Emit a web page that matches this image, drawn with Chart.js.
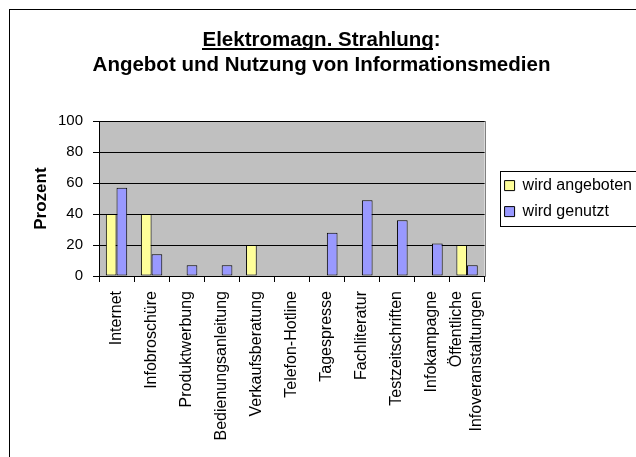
<!DOCTYPE html>
<html>
<head>
<meta charset="utf-8">
<script src="https://cdn.jsdelivr.net/npm/chart.js@4.4.1/dist/chart.umd.min.js"></script>
<style>
  html, body { margin: 0; padding: 0; background: #fff; overflow: hidden; }
  #wrap { width: 660px; height: 480px; }
</style>
</head>
<body>
<div id="wrap"><canvas id="chart" width="660" height="480"></canvas></div>
<script>
const categories = ['Internet', 'Infobroschüre', 'Produktwerbung', 'Bedienungsanleitung', 'Verkaufsberatung',
  'Telefon-Hotline', 'Tagespresse', 'Fachliteratur', 'Testzeitschriften', 'Infokampagne',
  ['Öffentliche', 'Infoveranstaltungen']];
const angeboten = [40, 40, 0, 0, 20, 0, 0, 0, 0, 0, 20];
const genutzt = [57, 14, 7, 7, 0, 0, 28, 49, 36, 21, 7];
const yTicks = [0, 20, 40, 60, 80, 100];
const titleLines = ['Elektromagn. Strahlung:', 'Angebot und Nutzung von Informationsmedien'];

const FONT = "'Liberation Sans', Arial, sans-serif";
const TITLE_SIZE = 20.5;

// Rahmen, Zeichenfläche, Unterstreichung, Legendenrahmen und Achsenbeschriftung
const frame = {
  id: 'frame',
  afterLayout(chart) {
    // Legende etwas vom Diagramm abrücken
    chart.legend.left += 10;
    chart.legend.right += 10;
  },
  beforeDraw(chart) {
    const { ctx, chartArea: a } = chart;
    ctx.save();
    ctx.fillStyle = '#fff';
    ctx.fillRect(0, 0, chart.width, chart.height);
    ctx.strokeStyle = '#000';
    ctx.lineWidth = 1;
    ctx.strokeRect(9.5, 9.5, chart.width + 20, chart.height + 20);
    ctx.fillStyle = '#c0c0c0';
    ctx.fillRect(a.left, a.top, a.right - a.left, a.bottom - a.top);
    ctx.strokeStyle = '#808080';
    ctx.strokeRect(Math.round(a.left) + 0.5, Math.round(a.top) + 0.5, Math.round(a.right - a.left), Math.round(a.bottom - a.top));
    ctx.restore();
  },
  afterDraw(chart) {
    const { ctx } = chart;
    ctx.save();

    // Unterstreichung der ersten Titelzeile (ohne Doppelpunkt)
    const tb = chart.titleBlock;
    ctx.font = `bold ${TITLE_SIZE}px ${FONT}`;
    const full = ctx.measureText(titleLines[0]).width;
    const part = ctx.measureText(titleLines[0].replace(/:$/, '')).width;
    const cx = (tb.left + tb.right) / 2;
    ctx.fillStyle = '#000';
    ctx.fillRect(Math.round(cx - full / 2), Math.round(tb.top + 18 + TITLE_SIZE * 0.6 + 8), Math.round(part), 2);

    // Legendenrahmen
    const lg = chart.legend;
    const mid = (lg.top + lg.bottom) / 2;
    ctx.strokeStyle = '#000';
    ctx.lineWidth = 1;
    ctx.strokeRect(Math.round(lg.left + 5) + 0.5, Math.round(mid - 28) + 0.5, 200, 55);

    // Kategorienbeschriftung, senkrecht
    const xs = chart.scales.x;
    ctx.font = `16px ${FONT}`;
    ctx.textAlign = 'right';
    ctx.textBaseline = 'middle';
    const lh = 20;
    categories.forEach((label, i) => {
      const lines = [].concat(label);
      const px = xs.getPixelForTick(i);
      lines.forEach((t, j) => {
        ctx.save();
        ctx.translate(px + (j - (lines.length - 1) / 2) * lh, xs.top + 15);
        ctx.rotate(-Math.PI / 2);
        ctx.fillText(t, 0, 0);
        ctx.restore();
      });
    });
    ctx.restore();
  }
};

const chart = new Chart(document.getElementById('chart'), {
  type: 'bar',
  data: {
    labels: categories,
    datasets: [
      {
        label: 'wird angeboten',
        data: angeboten,
        backgroundColor: '#ffff99',
        borderColor: '#000',
        borderWidth: 1,
        borderSkipped: false
      },
      {
        label: 'wird genutzt',
        data: genutzt,
        backgroundColor: '#9999ff',
        borderColor: '#000',
        borderWidth: 1,
        borderSkipped: false
      }
    ]
  },
  options: {
    responsive: false,
    animation: false,
    devicePixelRatio: 1,
    categoryPercentage: 0.61,
    barPercentage: 1,
    layout: { padding: { top: 10, left: 11, right: 28, bottom: 24 } },
    plugins: {
      title: {
        display: true,
        text: titleLines,
        color: '#000',
        font: { family: FONT, size: TITLE_SIZE, weight: 'bold', lineHeight: 1.2 },
        padding: { top: 18, bottom: 44 }
      },
      legend: {
        position: 'right',
        fullSize: false,
        align: 'center',
        labels: {
          boxWidth: 10,
          boxHeight: 10,
          padding: 10,
          color: '#000',
          font: { family: FONT, size: 16 }
        }
      },
      tooltip: { enabled: false }
    },
    scales: {
      x: {
        grid: { offset: true, drawOnChartArea: false, color: '#000', tickLength: 6 },
        border: { color: '#000' },
        ticks: { display: false },
        afterFit: s => { s.height = 180; }
      },
      y: {
        min: yTicks[0],
        max: yTicks[yTicks.length - 1],
        afterBuildTicks: s => { s.ticks = yTicks.map(v => ({ value: v })); },
        ticks: { color: '#000', padding: 10, font: { family: FONT, size: 15 } },
        grid: { color: '#000', tickLength: 6 },
        border: { color: '#000' },
        title: {
          display: true,
          text: 'Prozent',
          color: '#000',
          font: { family: FONT, size: 17, weight: 'bold' },
          padding: { top: 20, bottom: 9 }
        },
        afterFit: s => { s.width = 88; }
      }
    }
  },
  plugins: [frame]
});
</script>
</body>
</html>
